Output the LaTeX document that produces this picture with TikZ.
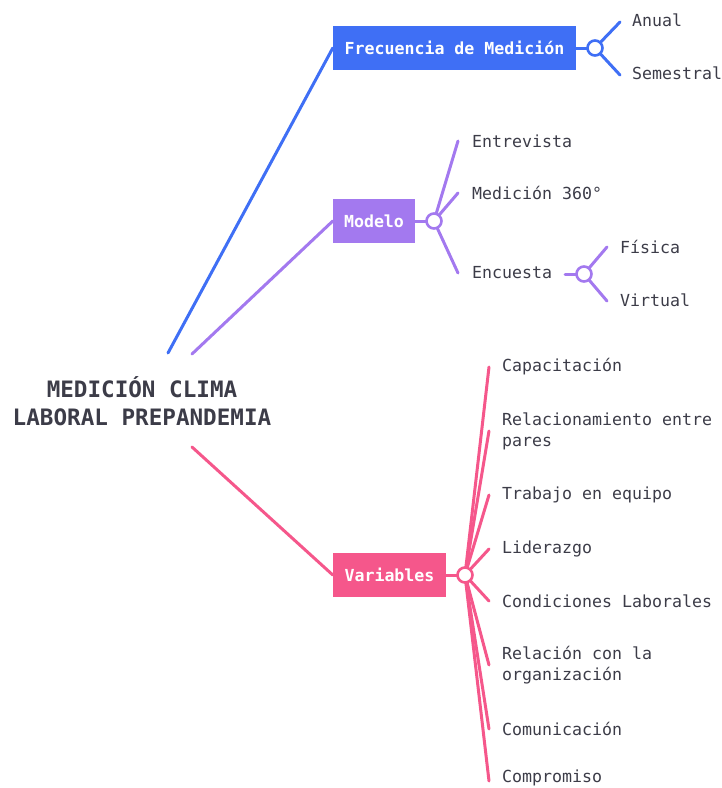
\documentclass[tikz,border=0pt]{standalone}
\usepackage{fontspec}
\setmainfont{DejaVu Sans Mono}
\definecolor{cblue}{HTML}{3F6FF5}
\definecolor{cpurple}{HTML}{A379EF}
\definecolor{cpink}{HTML}{F5578B}
\definecolor{ctext}{HTML}{3C3C48}
\begin{document}
\begin{tikzpicture}[x=1pt,y=-1pt,
  branch/.style={line width=3pt,line cap=round},
  catbox/.style={rectangle,minimum height=44pt,inner sep=0pt,text=white,font=\fontsize{16.6}{20}\selectfont\bfseries},
  hub/.style={circle,draw,fill=white,line width=2.6pt,minimum size=15pt,inner sep=0pt},
  leaf/.style={anchor=west,inner sep=0pt,text=ctext,align=left,font=\fontsize{16.6}{21}\selectfont},
  rootstyle/.style={align=center,text=ctext,font=\fontsize{22.6}{28}\selectfont\bfseries}]
\useasboundingbox (0,0) rectangle (722,788);
% root
\node[rootstyle] (root) at (142,401) {MEDICIÓN CLIMA\\LABORAL PREPANDEMIA};
\coordinate (rb) at (168,353);
\coordinate (rp) at (192,354);
\coordinate (rk) at (192,447);
% categories
\node[catbox,fill=cblue,minimum width=243pt] (frec) at (454.5,48) {Frecuencia de Medición};
\node[catbox,fill=cpurple,minimum width=82pt] (mod) at (374,221) {Modelo};
\node[catbox,fill=cpink,minimum width=113pt] (var) at (389.5,575) {Variables};
\draw[branch,cblue] (rb) -- (frec.west);
\draw[branch,cpurple] (rp) -- (mod.west);
\draw[branch,cpink] (rk) -- (var.west);
% frecuencia
\coordinate (fa) at (620,22);
\coordinate (fs) at (620,75);
\draw[branch,cblue] (frec.east) -- (595,48);
\draw[branch,cblue] (595,48) -- (fa);
\draw[branch,cblue] (595,48) -- (fs);
\node[hub,draw=cblue] (fh) at (595,48) {};
\node[leaf] (anual) at (632,20) {Anual};
\node[leaf] (sem) at (632,73) {Semestral};
% modelo
\coordinate (me) at (458,141);
\coordinate (mm) at (458,193);
\coordinate (mc) at (458,273);
\draw[branch,cpurple] (mod.east) -- (434,221);
\draw[branch,cpurple] (434,221) -- (me);
\draw[branch,cpurple] (434,221) -- (mm);
\draw[branch,cpurple] (434,221) -- (mc);
\node[hub,draw=cpurple] (mh) at (434,221) {};
\node[leaf] (entre) at (472,141) {Entrevista};
\node[leaf] (med) at (472,193) {Medición 360°};
\node[leaf] (enc) at (472,273) {Encuesta};
\coordinate (ef) at (607,247);
\coordinate (ev) at (607,301);
\draw[branch,cpurple] (565,274) -- (584,274);
\draw[branch,cpurple] (584,274) -- (ef);
\draw[branch,cpurple] (584,274) -- (ev);
\node[hub,draw=cpurple] (eh) at (584,274) {};
\node[leaf] (fis) at (620,247) {Física};
\node[leaf] (vir) at (620,300) {Virtual};
% variables
\draw[branch,cpink] (var.east) -- (465,575);
\foreach \y in {367,431,495,549,601,665,729,781}
  \draw[branch,cpink] (465,575) -- (489,\y);
\node[hub,draw=cpink] (vh) at (465,575) {};
\node[leaf] (v1) at (502,367) {Capacitación};
\node[leaf] (v2) at (502,431) {Relacionamiento entre\\pares};
\node[leaf] (v3) at (502,495) {Trabajo en equipo};
\node[leaf] (v4) at (502,549) {Liderazgo};
\node[leaf] (v5) at (502,601) {Condiciones Laborales};
\node[leaf] (v6) at (502,665) {Relación con la\\organización};
\node[leaf] (v7) at (502,729) {Comunicación};
\node[leaf] (v8) at (502,778) {Compromiso};
\end{tikzpicture}
\end{document}
